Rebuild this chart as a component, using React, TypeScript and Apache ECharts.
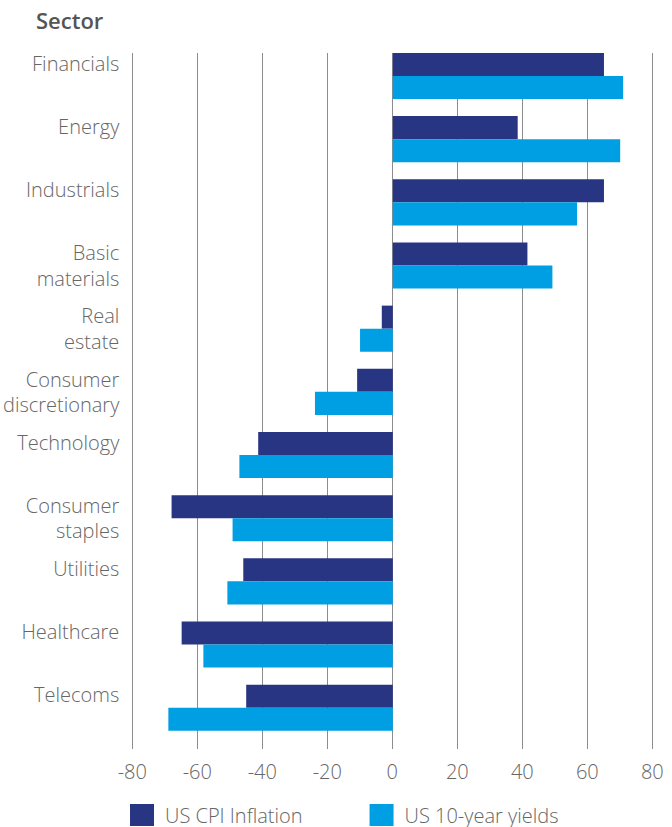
import React, { useEffect, useRef } from "react";
import * as echarts from "echarts";

const categories = [
  "Financials",
  "Energy",
  "Industrials",
  "Basic\nmaterials",
  "Real\nestate",
  "Consumer\ndiscretionary",
  "Technology",
  "Consumer\nstaples",
  "Utilities",
  "Healthcare",
  "Telecoms",
];

const cpiInflation = [65.1, 38.5, 65.1, 41.5, -3.4, -11.0, -41.5, -68.2, -46.1, -65.1, -45.2];
const tenYearYields = [71.0, 70.1, 56.8, 49.2, -10.1, -24.0, -47.3, -49.4, -51.0, -58.4, -69.2];

const xTicks = { min: -80, max: 80, interval: 20 };

const FONT = "'Open Sans', 'Noto Sans', sans-serif";
const TEXT = "#666666";

export default function App() {
  const ref = useRef<HTMLDivElement>(null);

  useEffect(() => {
    if (!ref.current) return;
    const chart = echarts.init(ref.current, null, { renderer: "svg" });
    chart.setOption({
      animation: false,
      textStyle: { fontFamily: FONT },
      title: {
        text: "Sector",
        left: 31,
        top: 4,
        textStyle: { fontSize: 22, fontWeight: 600, color: "#555555", fontFamily: FONT },
      },
      legend: {
        left: 130,
        top: 804,
        padding: 0,
        itemWidth: 24,
        itemHeight: 22,
        itemGap: 67,
        icon: "rect",
        textStyle: { fontSize: 20, color: TEXT, fontWeight: 300, padding: [0, 0, 0, 6], fontFamily: FONT },
        data: ["US CPI Inflation", "US 10-year yields"],
      },
      grid: [
        { left: 132.3, right: 19.7, top: 44.4, bottom: 87.7 },
        { left: 132.3, right: 19.7, top: 53, bottom: 78 },
      ],
      xAxis: [
        { type: "value", gridIndex: 0, min: xTicks.min, max: xTicks.max, show: false },
        {
          type: "value",
          gridIndex: 1,
          min: xTicks.min,
          max: xTicks.max,
          interval: xTicks.interval,
          axisLine: { show: false },
          axisTick: { show: false },
          splitLine: { show: true, lineStyle: { color: "#8c8c8c", width: 1 } },
          axisLabel: { fontSize: 20, color: TEXT, margin: 12, fontWeight: 300, fontFamily: FONT },
        },
      ],
      yAxis: [
        {
          type: "category",
          gridIndex: 0,
          inverse: true,
          data: categories,
          axisLine: { show: false },
          axisTick: { show: false },
          splitLine: { show: false },
          axisLabel: {
            fontSize: 20,
            color: TEXT,
            margin: 14,
            lineHeight: 25.5,
            fontWeight: 300,
            fontFamily: FONT,
            formatter: (v: string) => (v.includes("\n") ? v : v + "\n "),
          },
        },
        { type: "value", gridIndex: 1, show: false },
      ],
      series: [
        {
          name: "US CPI Inflation",
          type: "bar",
          xAxisIndex: 0,
          yAxisIndex: 0,
          data: cpiInflation,
          itemStyle: { color: "#283583" },
          barGap: "0%",
          barCategoryGap: "27%",
        },
        {
          name: "US 10-year yields",
          type: "bar",
          xAxisIndex: 0,
          yAxisIndex: 0,
          data: tenYearYields,
          itemStyle: { color: "#009FE3" },
          barGap: "0%",
          barCategoryGap: "27%",
        },
      ],
    });
    return () => chart.dispose();
  }, []);

  return (
    <div
      ref={ref}
      style={{ position: "absolute", left: 0, top: 0, width: 672, height: 827 }}
    />
  );
}
